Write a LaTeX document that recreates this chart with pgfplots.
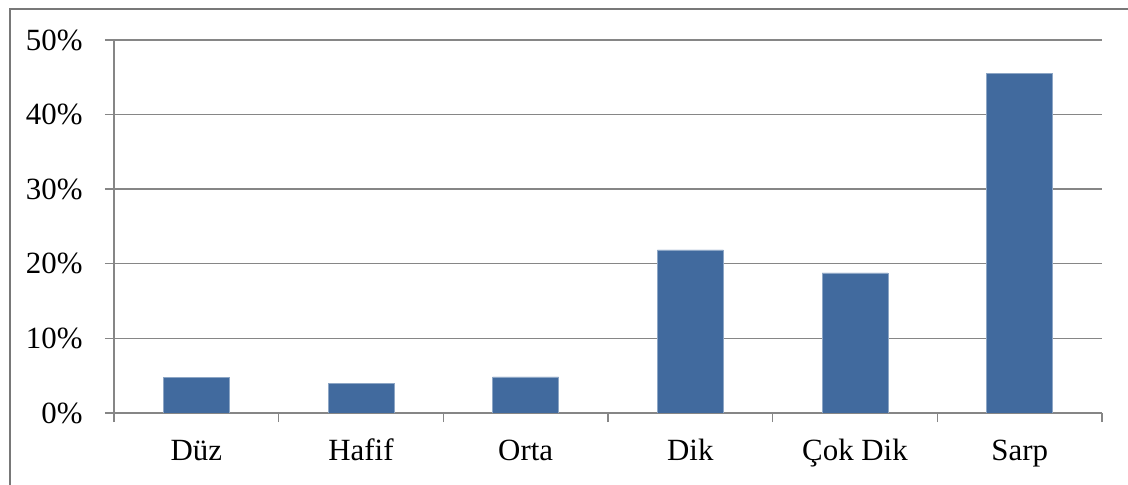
\documentclass[border=0pt]{standalone}
\usepackage{pgfplots}
\pgfplotsset{compat=1.18}
\usepackage{fontspec}
\setmainfont{Liberation Serif}
\definecolor{barblue}{RGB}{65,106,158}
\definecolor{gridgray}{RGB}{134,134,134}
\definecolor{framegray}{RGB}{120,120,120}

\begin{document}
\begin{tikzpicture}
\begin{axis}[
    at={(114bp,72bp)}, anchor=south west,
    scale only axis, width=988bp, height=373bp,
    xmin=-0.5, xmax=5.5, ymin=0, ymax=50,
    axis lines*=left, axis line style={gridgray, line width=1.4bp},
    xtick={-0.5,0.5,...,5.5}, x tick label as interval,
    xticklabels={Düz, Hafif, Orta, Dik, Çok Dik, Sarp},
    ytick={0,10,...,50},
    yticklabel={\pgfmathprintnumber{\tick}\%},
    tick align=outside, major tick length=9bp,
    tick style={gridgray, line width=1.4bp},
    ymajorgrids, grid style={gridgray, line width=1.4bp},
    ticklabel style={font=\fontsize{31}{34}\selectfont},
    /pgf/number format/assume math mode=true,
    xticklabel style={text height=0.72em, text depth=0.22em, yshift=-28bp},
    yticklabel style={xshift=-19bp},
    ybar, bar width=0.4,
]
\addplot[fill=barblue, draw=barblue!60!white, line width=0.6bp] coordinates
  {(0,4.75) (1,3.94) (2,4.83) (3,21.85) (4,18.77) (5,45.5)};
\end{axis}
\draw[framegray, line width=2bp] (10bp,0bp) -- (10bp,476bp) -- (1128bp,476bp);
\pgfresetboundingbox
\path (0,0) rectangle (1128bp,485bp);
\end{tikzpicture}
\end{document}
